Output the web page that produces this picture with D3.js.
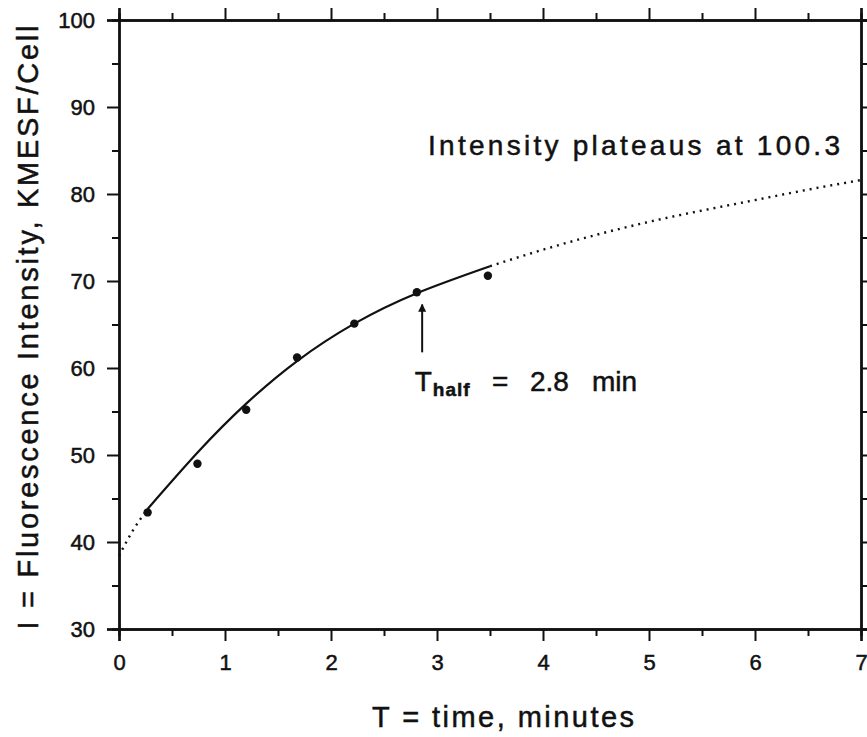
<!DOCTYPE html>
<html>
<head>
<meta charset="utf-8">
<script src="https://cdn.jsdelivr.net/npm/d3@7"></script>
<style>
  body { margin: 0; background: #fff; }
  svg text { font-family: "Liberation Sans", Arial, sans-serif; fill: #111; stroke: #111; stroke-width: 0.5; }
</style>
</head>
<body>
<svg id="chart"></svg>
<script>
// size of the picture
const width = 867;
const height = 737;

// measured data points (time in minutes, intensity)
const pointTimes = [0.27, 0.74, 1.20, 1.68, 2.22, 2.81, 3.48];
const pointValues = [43.4, 49.0, 55.2, 61.2, 65.1, 68.7, 70.6];

// fitted curve, solid part
const fitTimes = [0.27, 0.75, 1.2, 1.68, 2.22, 2.81, 3.5];
const fitValues = [43.8, 50.4, 55.9, 60.8, 65.1, 68.6, 71.7];

// dotted extrapolation before and after the data
const extraBeforeTimes = [0, 0.13, 0.27];
const extraBeforeValues = [38.4, 41.3, 43.8];
const extraAfterTimes = [3.5, 4.0, 4.5, 5.0, 5.5, 6.0, 6.5, 7.0];
const extraAfterValues = [71.7, 73.6, 75.3, 76.8, 78.1, 79.3, 80.5, 81.6];

// tick labels
const xTicks = [0, 1, 2, 3, 4, 5, 6, 7];
const yTicks = [30, 40, 50, 60, 70, 80, 90, 100];

const plot = {left: 119, right: 861, top: 20, bottom: 629};

const svg = d3.select("#chart")
    .attr("width", width)
    .attr("height", height);

const x = d3.scaleLinear().domain([0, 7]).range([plot.left, plot.right]);
const y = d3.scaleLinear().domain([30, 100]).range([plot.bottom, plot.top]);

const zip = (ts, vs) => ts.map((t, i) => [t, vs[i]]);

const line = d3.line()
    .x(d => x(d[0]))
    .y(d => y(d[1]))
    .curve(d3.curveNatural);

// minor + major ticks, drawn as two axes each side
function drawAxis(axisFn, scale, majors, minors, transform, showLabels, pad) {
    const gMinor = svg.append("g").attr("transform", transform)
        .call(axisFn(scale).tickValues(minors).tickSize(7).tickFormat(""));
    const gMajor = svg.append("g").attr("transform", transform)
        .call(axisFn(scale).tickValues(majors).tickSize(12).tickPadding(pad)
            .tickFormat(showLabels ? d3.format("d") : ""));
    [gMinor, gMajor].forEach(g => {
        g.selectAll(".domain").attr("stroke", "#111").attr("stroke-width", 2.4);
        g.selectAll(".tick line").attr("stroke", "#111").attr("stroke-width", 2);
        g.selectAll("text").attr("font-size", 22).attr("fill", "#111")
            .attr("font-family", "'Liberation Sans', Arial, sans-serif");
    });
    return gMajor;
}

const xMinor = d3.range(0.5, 7, 1);
const yMinor = d3.range(35, 100, 10);

drawAxis(d3.axisBottom, x, xTicks, xMinor, `translate(0,${plot.bottom})`, true, 13);
drawAxis(d3.axisTop, x, xTicks, xMinor, `translate(0,${plot.top})`, false, 8);
drawAxis(d3.axisLeft, y, yTicks, yMinor, `translate(${plot.left},0)`, true, 12);
drawAxis(d3.axisRight, y, yTicks, yMinor, `translate(${plot.right},0)`, false, 8);

// dotted extrapolations
[zip(extraBeforeTimes, extraBeforeValues), zip(extraAfterTimes, extraAfterValues)].forEach(seg => {
    svg.append("path")
        .attr("d", line(seg))
        .attr("fill", "none")
        .attr("stroke", "#111")
        .attr("stroke-width", 2.4)
        .attr("stroke-dasharray", "2,5");
});

// solid fitted curve
svg.append("path")
    .attr("d", line(zip(fitTimes, fitValues)))
    .attr("fill", "none")
    .attr("stroke", "#111")
    .attr("stroke-width", 2.2);

// data points
svg.selectAll("circle.pt")
    .data(zip(pointTimes, pointValues))
    .join("circle")
    .attr("class", "pt")
    .attr("cx", d => x(d[0]))
    .attr("cy", d => y(d[1]))
    .attr("r", 4.2)
    .attr("fill", "#111");

// arrow pointing at T half
svg.append("defs").append("marker")
    .attr("id", "head")
    .attr("viewBox", "0 0 10 10")
    .attr("refX", 9).attr("refY", 5)
    .attr("markerWidth", 4).attr("markerHeight", 5)
    .attr("orient", "auto")
    .append("path").attr("d", "M0,0L10,5L0,10Z").attr("fill", "#111");

svg.append("line")
    .attr("x1", x(2.86)).attr("x2", x(2.86))
    .attr("y1", y(61.8)).attr("y2", y(67.3))
    .attr("stroke", "#111").attr("stroke-width", 2)
    .attr("marker-end", "url(#head)");

// annotations
const thalf = svg.append("text")
    .attr("x", x(2.79)).attr("y", y(57.3))
    .attr("font-size", 28);
thalf.append("tspan").text("T");
thalf.append("tspan").attr("dy", 5).attr("dx", 1).attr("font-size", 19)
    .attr("font-weight", "bold").attr("letter-spacing", 1).text("half");

// "= 2.8 min" is set with wide gaps in the original
[["=", 3.52], ["2.8", 3.877], ["min", 4.462]].forEach(([s, t]) => {
    svg.append("text")
        .attr("x", x(t)).attr("y", y(57.3))
        .attr("font-size", 28)
        .text(s);
});

svg.append("text")
    .attr("x", x(2.915)).attr("y", y(84.5))
    .attr("font-size", 28)
    .attr("textLength", 412)
    .text("Intensity plateaus at 100.3");

// axis titles
svg.append("text")
    .attr("x", (plot.left + plot.right) / 2 + 13).attr("y", 727)
    .attr("text-anchor", "middle")
    .attr("font-size", 29)
    .attr("textLength", 262)
    .text("T = time, minutes");

svg.append("text")
    .attr("transform", `translate(38,${(plot.top + plot.bottom) / 2 + 3}) rotate(-90)`)
    .attr("text-anchor", "middle")
    .attr("font-size", 29)
    .attr("textLength", 604)
    .text("I = Fluorescence Intensity, KMESF/Cell");
</script>
</body>
</html>
